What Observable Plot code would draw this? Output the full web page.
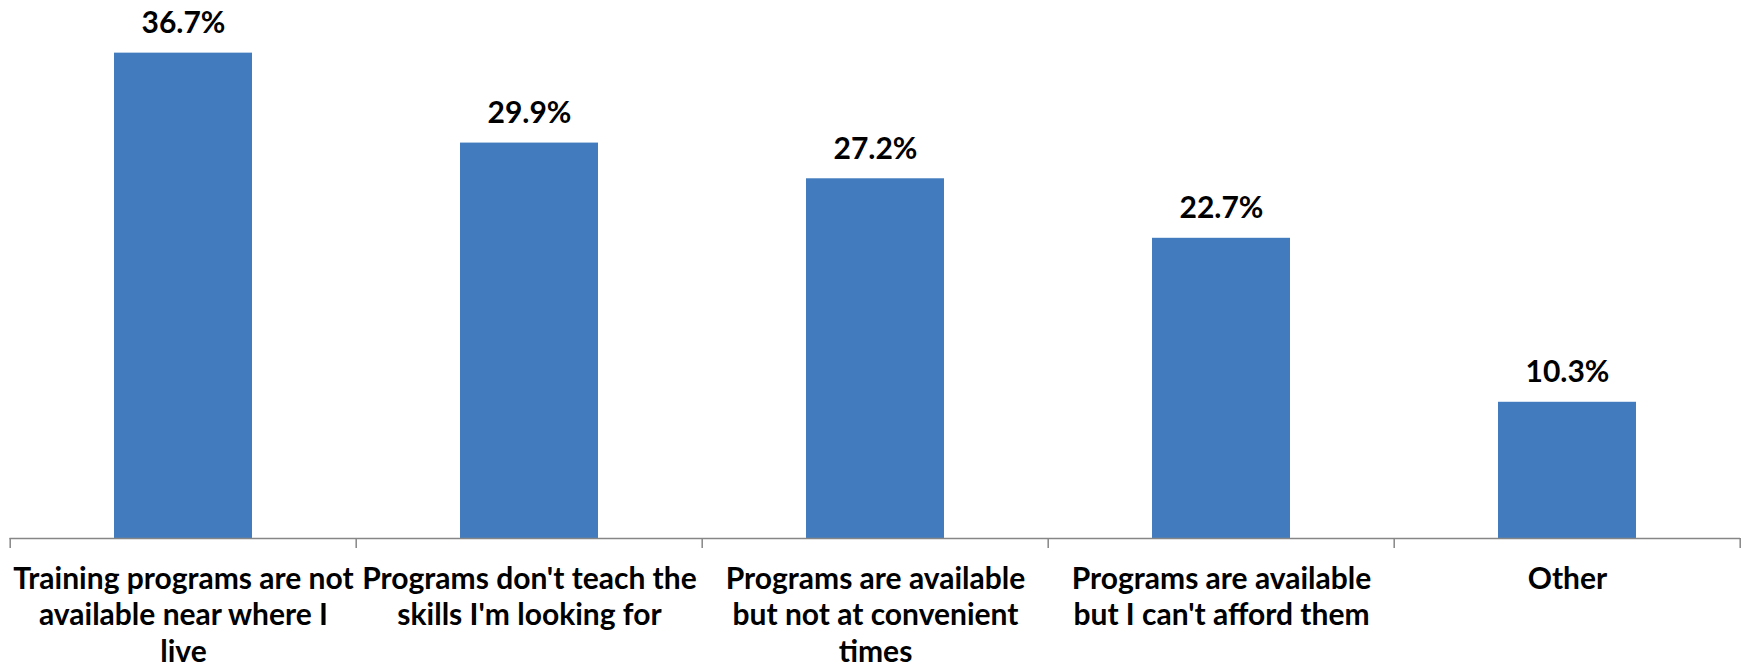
<!DOCTYPE html>
<html>
<head>
<meta charset="utf-8">
<script src="https://cdn.jsdelivr.net/npm/d3@7"></script>
<script src="https://cdn.jsdelivr.net/npm/@observablehq/plot@0.6"></script>
<style>
  html, body { margin: 0; padding: 0; background: #ffffff; }
  #chart { width: 1743px; height: 670px; }
</style>
</head>
<body>
<div id="chart"></div>
<script>
const categories = [
  "Training programs are not available near where I live",
  "Programs don't teach the skills I'm looking for",
  "Programs are available but not at convenient times",
  "Programs are available but I can't afford them",
  "Other"
];
const tickLabels = [
  "Training programs are not\navailable near where I\nlive",
  "Programs don't teach the\nskills I'm looking for",
  "Programs are available\nbut not at convenient\ntimes",
  "Programs are available\nbut I can't afford them",
  "Other"
];
const values = [36.7, 29.9, 27.2, 22.7, 10.3];

const data = categories.map((c, i) => ({category: c, label: tickLabels[i], value: values[i]}));

const FS = 30;
const LINE = 37;

// boundary tick marks between categories (Excel-style category axis ticks)
function boundaryTicks(index, scales, values, dimensions) {
  const x = scales.x, y = scales.y;
  const step = x(categories[1]) - x(categories[0]);
  const y0 = y(0);
  const g = d3.create("svg:g");
  const bounds = categories.map(c => x(c) - step * 0.3);
  bounds.push(x(categories[categories.length - 1]) + step * 0.7);
  for (const b of bounds) {
    g.append("line")
      .attr("x1", b).attr("x2", b)
      .attr("y1", y0).attr("y2", y0 + 10)
      .attr("stroke", "#868686")
      .attr("stroke-width", 1.5);
  }
  return g.node();
}

const chart = Plot.plot({
  width: 1743,
  height: 670,
  marginTop: 9,
  marginBottom: 132,
  marginLeft: 9.5,
  marginRight: 3,
  style: {fontFamily: "Lato, 'Open Sans', sans-serif", background: "#ffffff", color: "#000000"},
  x: {domain: categories, paddingInner: 0.6, paddingOuter: 0.3, axis: null},
  y: {domain: [0, 40], axis: null},
  marks: [
    Plot.barY(data, {x: "category", y: "value", fill: "#427CBE"}),
    Plot.ruleY([0], {stroke: "#868686", strokeWidth: 1.5}),
    boundaryTicks,
    Plot.text(data, {
      x: "category", y: "value",
      text: d => d.value.toFixed(1) + "%",
      lineAnchor: "bottom", dy: -20,
      fontSize: FS, fontWeight: "bold", fill: "#000000"
    }),
    Plot.text(data, {
      x: "category", y: () => 0,
      text: "label",
      lineAnchor: "top", lineHeight: LINE / FS, dy: 50 - 0.71 * LINE,
      fontSize: FS, fontWeight: "bold", fill: "#000000"
    })
  ]
});
document.getElementById("chart").appendChild(chart);
</script>
</body>
</html>
